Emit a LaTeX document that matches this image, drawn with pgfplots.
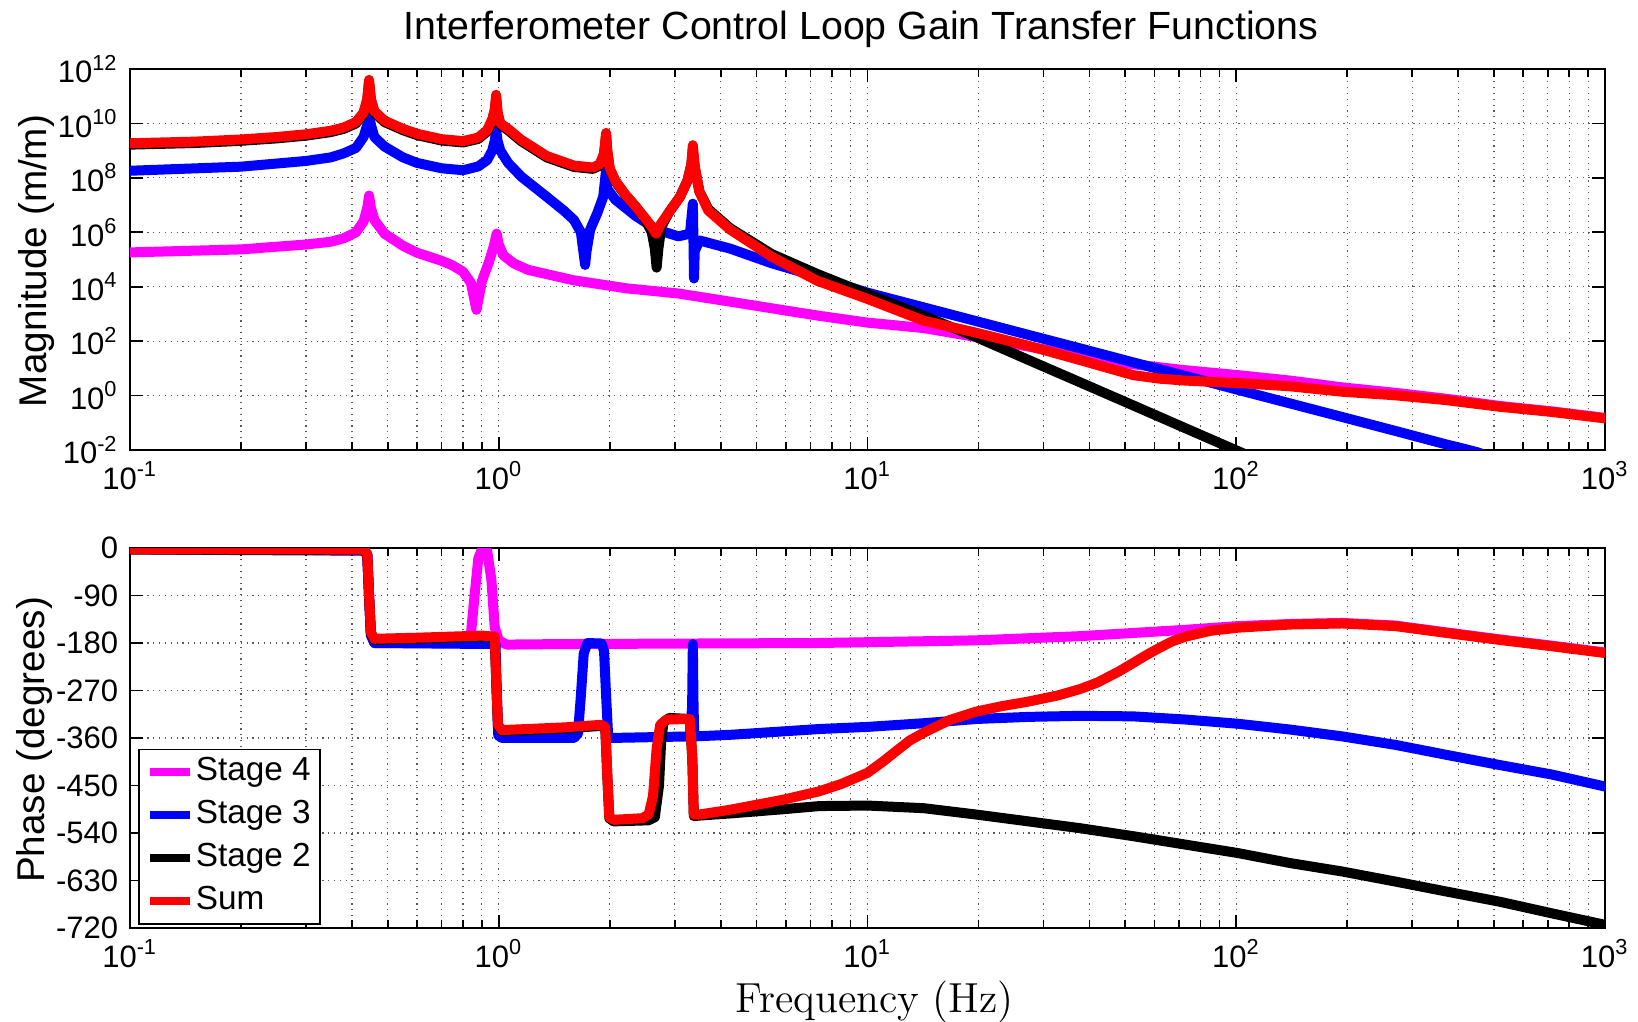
\documentclass[border=0pt]{standalone}
\usepackage{fontspec}
\usepackage{pgfplots}
\pgfplotsset{compat=1.18}
\newfontfamily\hel{Liberation Sans}
\definecolor{mag}{RGB}{255,0,255}
\definecolor{blu}{RGB}{0,0,255}
\definecolor{rd}{RGB}{255,0,0}

\begin{document}
\begin{tikzpicture}
\path[use as bounding box] (0,0) rectangle (491.4pt,306.6pt);

% ---------------- Magnitude ----------------
\begin{axis}[
  scale only axis, width=442.5pt, height=114.3pt,
  at={(39pt,171.6pt)}, anchor=south west,
  xmode=log, xmin=0.1, xmax=1000,
  xtick={0.1,1,10,100,1000},
  xticklabels={10\textsuperscript{-1},10\textsuperscript{0},10\textsuperscript{1},10\textsuperscript{2},10\textsuperscript{3}},
  xmajorgrids=true, xminorgrids=true, ymajorgrids=true, yminorgrids=false,
  major grid style={black!65, line width=0.35pt, dash pattern=on 0.35pt off 1.4pt},
  minor grid style={black!65, line width=0.35pt, dash pattern=on 0.35pt off 1.4pt},
  tick align=inside,
  major tick length=4pt, minor tick length=2.4pt,
  tick style={black, line width=0.5pt},
  axis line style={line width=0.6pt},
  tick label style={font=\hel\fontsize{9.3}{11}\selectfont},
  ymode=log, ymin=1e-2, ymax=1e12, yminorticks=false,
  ytick={1e-2,1,1e2,1e4,1e6,1e8,1e10,1e12},
  yticklabels={10\textsuperscript{-2},10\textsuperscript{0},10\textsuperscript{2},10\textsuperscript{4},10\textsuperscript{6},10\textsuperscript{8},10\textsuperscript{10},10\textsuperscript{12}},
  ylabel={Magnitude (m/m)},
  ylabel style={at={(axis description cs:-0.0637,0.496)}, anchor=center, font=\hel\fontsize{11.6}{13}\selectfont},
  title={Interferometer Control Loop Gain Transfer Functions},
  title style={at={(axis description cs:0.4956,1.105)}, anchor=center, yshift=-6pt, font=\hel\fontsize{11.8}{14}\selectfont},
]
% Stage 4
\addplot[mag, line width=3pt, line join=round, line cap=round] table {
0.1 1.820e5
0.2 2.344e5
0.3 3.548e5
0.35 4.467e5
0.38 6.026e5
0.41 1e6
0.43 2.512e6
0.44 7.943e6
0.445 2.239e7
0.45 7.943e6
0.46 2.818e6
0.49 8.913e5
0.55 3.162e5
0.6 1.778e5
0.7 8.913e4
0.75 6.026e4
0.8 3.548e4
0.84 1.413e4
0.87 1.413e3
0.9 1.585e4
0.94 7.943e4
0.97 3.162e5
0.987 8.913e5
1.0 3.548e5
1.03 1.413e5
1.1 7.079e4
1.2 4.169e4
1.59 1.738e4
2.22 8.710e3
3.07 5.623e3
4.24 2.818e3
5.9 1.380e3
7.4 851.1
10 478.6
14.2 302.0
19.7 141.3
27.3 63.10
37.8 28.18
52.5 14.13
72.8 8.511
101 5.623
140 3.548
194 1.995
270 1.259
372 0.7586
516 0.4169
715 0.2630
1000 0.1514
};
% Stage 3
\addplot[blu, line width=3pt, line join=round, line cap=round] table {
0.1 1.820e8
0.2 2.570e8
0.3 4.169e8
0.35 5.623e8
0.38 7.943e8
0.41 1.259e9
0.43 3.162e9
0.44 8.913e9
0.445 2.239e10
0.45 8.913e9
0.46 3.162e9
0.49 1.413e9
0.55 5.623e8
0.6 3.548e8
0.7 2.239e8
0.8 1.905e8
0.88 2.630e8
0.93 4.467e8
0.96 1e9
0.975 2.239e9
0.984 5.623e9
0.993 2.239e9
1.01 1e9
1.06 3.548e8
1.15 1.122e8
1.35 1.995e7
1.5 6.310e6
1.6 2.818e6
1.67 1e6
1.7 1.585e5
1.715 6.310e4
1.73 1.995e5
1.77 1.259e6
1.85 5.012e6
1.92 1.995e7
1.955 1.995e8
1.97 3.981e7
2.07 1.585e7
2.35 3.981e6
2.68 1.259e6
3.07 7.079e5
3.3 8.913e5
3.36 1.122e7
3.375 3.162e5
3.385 1.995e4
3.4 1.995e5
3.5 5.012e5
4.24 2.512e5
5.5 7.244e4
7.3 2.344e4
10 6.026e3
14.2 1.738e3
19.7 543.3
27.3 169.8
37.8 53.70
52.5 16.60
72.8 5.248
101 1.622
140 0.5129
194 0.1622
270 0.05012
372 0.01585
399 0.01259
450 0.008318
500 0.005012
};
% Stage 2
\addplot[black, line width=3pt, line join=round, line cap=round] table {
0.1 1.660e9
0.15 1.905e9
0.2 2.291e9
0.25 2.818e9
0.3 3.548e9
0.35 4.786e9
0.38 6.310e9
0.41 1e10
0.43 2.239e10
0.44 7.079e10
0.445 3.162e11
0.45 7.079e10
0.46 2.512e10
0.49 1.122e10
0.55 5.623e9
0.6 3.715e9
0.7 2.344e9
0.8 1.995e9
0.88 2.692e9
0.93 5.012e9
0.96 1.259e10
0.975 2.818e10
0.984 7.943e10
0.993 2.239e10
1.01 8.913e9
1.06 5.623e9
1.15 2.239e9
1.35 5.623e8
1.6 2.512e8
1.8 2.138e8
1.88 2.818e8
1.93 7.079e8
1.955 3.548e9
1.97 8.913e8
2.0 1.995e8
2.07 7.413e7
2.2 2.399e7
2.35 8.913e6
2.5 2.818e6
2.6 1e6
2.65 2.512e5
2.68 5.012e4
2.71 2.512e5
2.76 1.585e6
2.9 5.623e6
3.1 1.995e7
3.25 7.943e7
3.33 3.162e8
3.36 1.122e9
3.4 2.512e8
3.5 3.162e7
3.7 7.079e6
4.24 1.413e6
5.5 1.585e5
7.3 2.951e4
10 5.370e3
14.2 851.1
19.7 141.3
27.3 20.42
37.8 3.020
52.5 0.4365
72.8 0.06310
101 0.009120
120 0.003311
};
% Sum
\addplot[rd, line width=3pt, line join=round, line cap=round] table {
0.1 1.862e9
0.15 2.138e9
0.2 2.570e9
0.25 3.162e9
0.3 3.981e9
0.35 5.370e9
0.38 7.079e9
0.41 1.122e10
0.43 2.512e10
0.44 7.943e10
0.445 3.981e11
0.45 7.943e10
0.46 2.818e10
0.49 1.259e10
0.55 6.310e9
0.6 4.169e9
0.7 2.630e9
0.8 2.239e9
0.88 3.020e9
0.93 5.623e9
0.96 1.413e10
0.975 3.162e10
0.984 1.122e11
0.993 2.512e10
1.01 1e10
1.06 6.310e9
1.15 2.512e9
1.35 6.310e8
1.6 2.818e8
1.8 2.399e8
1.88 3.162e8
1.93 7.943e8
1.955 4.467e9
1.97 1e9
2.0 2.239e8
2.07 7.943e7
2.2 2.512e7
2.35 8.913e6
2.5 3.162e6
2.6 1.585e6
2.67 8.913e5
2.75 1.995e6
2.9 5.623e6
3.1 1.995e7
3.25 7.943e7
3.33 3.162e8
3.36 1.585e9
3.4 2.512e8
3.5 3.162e7
3.7 6.310e6
4.24 1.259e6
5.5 1.259e5
7.3 1.660e4
10 3.548e3
14.2 562.3
19.7 204.2
27.3 67.61
37.8 19.95
52.5 5.623
62 4.169
72.8 3.548
101 2.884
140 2.188
194 1.380
270 1.023
372 0.6761
516 0.3890
715 0.2512
1000 0.1445
};
\end{axis}

% ---------------- Phase ----------------
\begin{axis}[
  scale only axis, width=442.5pt, height=114pt,
  at={(39pt,28.2pt)}, anchor=south west,
  xmode=log, xmin=0.1, xmax=1000,
  xtick={0.1,1,10,100,1000},
  xticklabels={10\textsuperscript{-1},10\textsuperscript{0},10\textsuperscript{1},10\textsuperscript{2},10\textsuperscript{3}},
  xmajorgrids=true, xminorgrids=true, ymajorgrids=true,
  major grid style={black!65, line width=0.35pt, dash pattern=on 0.35pt off 1.4pt},
  minor grid style={black!65, line width=0.35pt, dash pattern=on 0.35pt off 1.4pt},
  tick align=inside,
  major tick length=4pt, minor tick length=2.4pt,
  tick style={black, line width=0.5pt},
  axis line style={line width=0.6pt},
  tick label style={font=\hel\fontsize{9.3}{11}\selectfont},
  ymin=-720, ymax=0,
  ytick={-720,-630,-540,-450,-360,-270,-180,-90,0},
  yticklabels={-720,-630,-540,-450,-360,-270,-180,-90,0},
  ylabel={Phase (degrees)},
  ylabel style={at={(axis description cs:-0.0644,0.495)}, anchor=center, font=\hel\fontsize{11.6}{13}\selectfont},
  xlabel={Frequency (Hz)},
  xlabel style={at={(axis description cs:0.505,-0.195)}, anchor=center, font=\fontsize{12.6}{15}\selectfont},
  legend style={at={(axis description cs:0.0054,0.008)}, anchor=south west,
    draw=black, line width=0.5pt, fill=white,
    font=\hel\fontsize{10}{12}\selectfont,
    inner xsep=2.2pt, inner ysep=0.4pt, column sep=0pt, row sep=0pt,
    nodes={inner xsep=0.5pt, inner ysep=1.45pt, text height=7.5pt, text depth=2.5pt}},
  legend cell align=left,
  legend image code/.code={\draw[#1, line width=2.4pt, line cap=butt] (0pt,0pt) -- (12pt,0pt);},
]
\addplot[mag, line width=3pt, line join=round, line cap=round] table {
0.1 0
0.43 -2
0.44 -11
0.445 -90
0.45 -165
0.46 -180
0.82 -180
0.84 -165
0.86 -90
0.88 -20
0.9 -3
0.93 -5
0.955 -60
0.975 -150
1.0 -175
1.05 -183
1.5 -182
7.4 -180
19.7 -175
37.8 -167
72.8 -155
101 -148
140 -144
194 -142
270 -147
372 -160
516 -173
715 -185
1000 -198
};
\addlegendentry{Stage 4}
\addplot[blu, line width=3pt, line join=round, line cap=round] table {
0.1 -2
0.2 -4
0.43 -5
0.44 -14
0.445 -92
0.45 -165
0.46 -180
0.98 -182
0.987 -270
0.997 -355
1.02 -360
1.6 -360
1.64 -352
1.67 -280
1.7 -200
1.74 -180
1.9 -181
1.93 -195
1.955 -280
1.98 -355
2.0 -360
3.3 -357
3.345 -300
3.36 -182
3.375 -300
3.39 -357
4.24 -354
7.4 -343
10 -339
14.2 -332
19.7 -324
27.3 -320
37.8 -318
52.5 -319
72.8 -325
101 -333
140 -344
194 -357
270 -373
372 -392
516 -411
715 -429
1000 -452
};
\addlegendentry{Stage 3}
\addplot[black, line width=3pt, line join=round, line cap=round] table {
0.1 -3
0.43 -4
0.44 -13
0.445 -92
0.45 -162
0.46 -174
0.6 -172
0.9 -168
0.975 -170
0.985 -257
0.995 -337
1.02 -347
1.5 -342
1.9 -337
1.945 -342
1.97 -432
1.995 -512
2.05 -518
2.55 -516
2.65 -510
2.72 -450
2.76 -360
2.8 -330
2.9 -322
3.3 -324
3.35 -402
3.38 -508
3.5 -507
4.24 -503
5.9 -495
7.4 -489
10 -488
14.2 -493
19.7 -505
27.3 -518
37.8 -531
52.5 -546
72.8 -562
101 -578
140 -597
194 -613
270 -632
372 -651
516 -670
715 -692
1000 -714
};
\addlegendentry{Stage 2}
\addplot[rd, line width=3pt, line join=round, line cap=round] table {
0.1 -2
0.43 -3
0.44 -12
0.445 -90
0.45 -160
0.46 -172
0.6 -170
0.9 -166
0.975 -168
0.985 -255
0.995 -335
1.02 -345
1.5 -340
1.9 -335
1.945 -340
1.97 -430
1.995 -510
2.05 -515
2.45 -512
2.55 -505
2.62 -470
2.68 -380
2.74 -335
2.85 -325
3.3 -324
3.35 -400
3.38 -505
3.5 -505
4.24 -496
5.9 -477
7.4 -461
8.5 -447
10 -426
11 -405
12 -384
13 -365
14.2 -350
16.7 -326
19.7 -310
23 -300
27.3 -291
33 -279
37.8 -267
42 -255
48 -234
52.5 -218
57 -203
62 -189
67 -177
72.8 -168
85 -157
101 -151
140 -145
194 -143
270 -148
372 -161
516 -174
715 -186
1000 -199
};
\addlegendentry{Sum}
\end{axis}
\end{tikzpicture}
\end{document}
